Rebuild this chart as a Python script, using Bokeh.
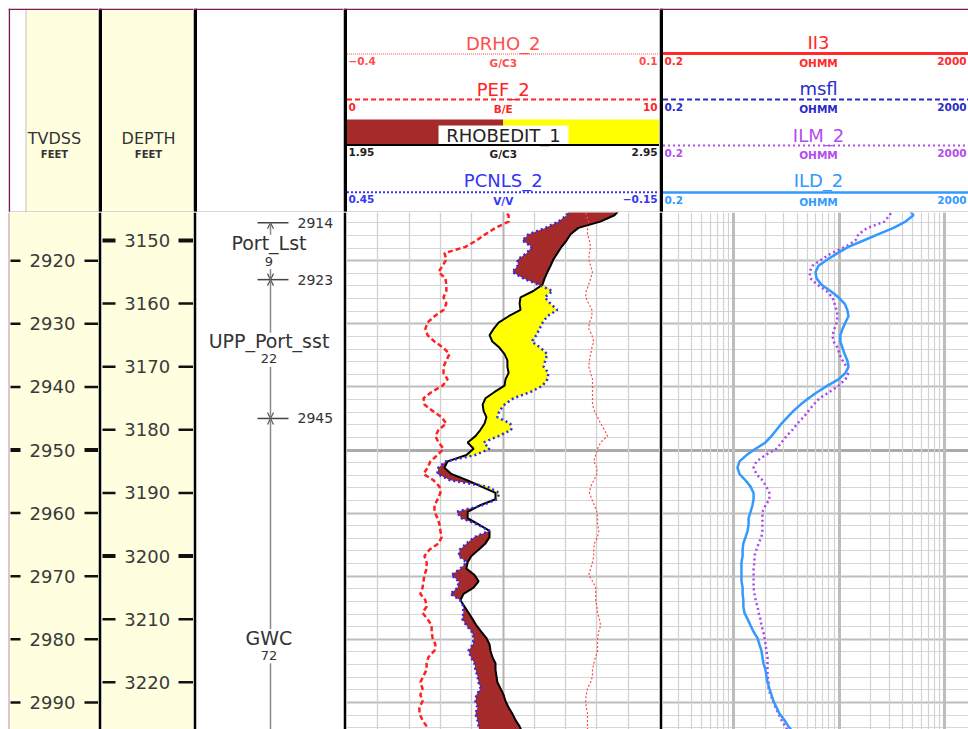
import numpy as np
from bokeh.plotting import figure
from bokeh.layouts import row, column
from bokeh.models import Range1d, Grid, FixedTicker, Arrow, OpenHead, ColumnDataSource, Spacer
from bokeh.core.properties import value
from bokeh.embed import file_html
from bokeh.resources import INLINE

# ---------------- data ----------------
MD = list(range(3145, 3229))  # measured depth, feet

RHOB = [2.825, 2.806, 2.761, 2.691, 2.666, 2.653, 2.637, 2.624, 2.611, 2.602,
        2.592, 2.583, 2.576, 2.547, 2.506, 2.503, 2.506, 2.468, 2.436, 2.420,
        2.407, 2.416, 2.439, 2.455, 2.464, 2.464, 2.468, 2.458, 2.455, 2.423,
        2.394, 2.385, 2.388, 2.397, 2.391, 2.378, 2.362, 2.337, 2.356, 2.333,
        2.273, 2.263, 2.285, 2.337, 2.381, 2.426, 2.426, 2.375, 2.337, 2.337,
        2.372, 2.407, 2.407, 2.394, 2.372, 2.349, 2.337, 2.333, 2.359, 2.372,
        2.356, 2.324, 2.314, 2.327, 2.340, 2.353, 2.365, 2.381, 2.397, 2.407,
        2.410, 2.416, 2.426, 2.426, 2.429, 2.432, 2.442, 2.452, 2.458, 2.468,
        2.480, 2.490, 2.503, 2.512]

PCNLS = [0.021, 0.028, 0.044, 0.069, 0.101, 0.113, 0.095, 0.105, 0.122, 0.122,
         0.132, 0.111, 0.082, 0.055, 0.070, 0.059, 0.046, 0.065, 0.074, 0.080,
         0.086, 0.095, 0.078, 0.065, 0.069, 0.072, 0.063, 0.065, 0.074, 0.097,
         0.130, 0.147, 0.157, 0.161, 0.136, 0.134, 0.159, 0.187, 0.176, 0.203,
         0.260, 0.274, 0.276, 0.251, 0.180, 0.157, 0.161, 0.191, 0.239, 0.230,
         0.199, 0.176, 0.205, 0.220, 0.233, 0.235, 0.220, 0.232, 0.249, 0.235,
         0.237, 0.251, 0.232, 0.226, 0.226, 0.228, 0.220, 0.210, 0.206, 0.208,
         0.216, 0.212, 0.205, 0.203, 0.199, 0.197, 0.193, 0.201, 0.203, 0.199,
         0.203, 0.199, 0.197, 0.195]

PEF = [4.92, 5.18, 5.18, 4.76, 4.44, 4.15, 3.80, 3.13, 3.19, 3.07,
       2.94, 3.16, 3.19, 3.19, 3.10, 3.19, 3.10, 2.81, 2.59, 2.52,
       2.59, 2.81, 3.10, 3.29, 3.19, 3.10, 3.10, 3.23, 3.07, 2.72,
       2.46, 2.49, 2.75, 3.04, 3.19, 2.94, 2.84, 2.94, 3.10, 2.91,
       2.68, 2.59, 2.46, 2.78, 2.97, 3.00, 2.91, 2.81, 2.81, 2.91,
       2.97, 3.00, 3.04, 2.94, 2.65, 2.49, 2.56, 2.56, 2.49, 2.46,
       2.43, 2.36, 2.52, 2.56, 2.43, 2.59, 2.72, 2.72, 2.75, 2.84,
       2.81, 2.62, 2.56, 2.56, 2.46, 2.36, 2.43, 2.36, 2.43, 2.33,
       2.33, 2.43, 2.56, 2.65]

DRHO = [-0.018, -0.017, -0.013, -0.015, -0.015, -0.012, -0.010, -0.012, -0.013, -0.010,
        -0.007, -0.010, -0.013, -0.017, -0.018, -0.013, -0.008, -0.008, -0.012, -0.013,
        -0.008, -0.005, -0.008, -0.010, -0.012, -0.013, -0.010, -0.007, -0.007, -0.007,
        -0.007, -0.007, -0.004, 0.001, 0.006, 0.012, 0.017, 0.006, 0.001, -0.002,
        -0.005, 0.000, 0.000, -0.005, -0.010, -0.012, -0.008, -0.004, 0.000, 0.001,
        0.001, 0.003, 0.001, -0.004, -0.005, -0.005, -0.007, -0.010, -0.013, -0.007,
        -0.002, -0.002, -0.002, 0.000, 0.001, 0.004, 0.006, 0.003, 0.001, 0.001,
        0.001, -0.002, -0.005, -0.007, -0.007, -0.010, -0.015, -0.017, -0.018, -0.017,
        -0.015, -0.015, -0.015, -0.015]

ILD = [45.6, 50.8, 42.7, 32.9, 23.7, 17.1, 12.3, 9.68, 7.78, 6.39,
       5.99, 6.12, 6.83, 8.30, 9.89, 11.3, 12.0, 12.3, 11.5, 10.8,
       10.3, 10.3, 10.8, 11.3, 12.0, 12.3, 11.5, 9.89, 7.78, 6.25,
       5.14, 4.32, 3.70, 3.25, 2.85, 2.56, 2.29, 2.01, 1.62, 1.33,
       1.14, 1.09, 1.14, 1.30, 1.45, 1.55, 1.55, 1.51, 1.45, 1.39,
       1.39, 1.36, 1.30, 1.24, 1.22, 1.22, 1.19, 1.19, 1.19, 1.19,
       1.22, 1.22, 1.24, 1.24, 1.27, 1.36, 1.45, 1.55, 1.69, 1.76,
       1.84, 1.88, 1.92, 2.01, 2.05, 2.10, 2.19, 2.29, 2.39, 2.56,
       2.73, 3.04, 3.32, 3.70]

ILM = [32.9, 30.1, 27.0, 18.6, 15.3, 14.3, 11.5, 8.49, 6.83, 5.61,
       5.25, 5.37, 6.25, 7.61, 8.67, 9.06, 9.47, 9.68, 9.47, 9.06,
       8.67, 8.87, 9.68, 10.1, 10.8, 11.8, 12.3, 11.5, 9.89, 8.13,
       6.53, 5.73, 5.14, 4.61, 4.04, 3.62, 3.18, 2.85, 2.56, 2.01,
       1.65, 1.55, 1.65, 1.88, 2.05, 2.19, 2.19, 2.01, 1.88, 1.88,
       1.88, 1.88, 1.84, 1.73, 1.65, 1.58, 1.58, 1.55, 1.55, 1.55,
       1.55, 1.58, 1.62, 1.69, 1.73, 1.80, 1.84, 1.92, 1.97, 2.01,
       2.05, 2.10, 2.10, 2.10, 2.10, 2.15, 2.15, 2.24, 2.39, 2.50,
       2.67, 2.85, 3.11, 3.32]

TVD_OFFSET = 233.2                     # MD - TVDSS
MD_TICKS = list(range(3150, 3230, 10))
TVD_TICKS = list(range(2920, 3000, 10))

ZONE_NAMES = ["Port_Lst", "UPP_Port_sst", "GWC"]
ZONE_TOPS = [2914, 2923, 2945]        # TVDSS
ZONE_BASES = [2923, 2945, 3017]

DENS_NAMES = ["DRHO_2", "PEF_2", "RHOBEDIT_1", "PCNLS_2"]
DENS_UNITS = ["G/C3", "B/E", "G/C3", "V/V"]
DENS_LEFT = [-0.4, 0, 1.95, 0.45]
DENS_RIGHT = [0.1, 10, 2.95, -0.15]
DENS_COLORS = ["#ff4d4d", "#ff2424", "#000000", "#3535f5"]

RES_NAMES = ["II3", "msfl", "ILM_2", "ILD_2"]
RES_UNIT = "OHMM"
RES_LEFT = 0.2
RES_RIGHT = 2000
RES_COLORS = ["#ff2a2a", "#2b2bc8", "#b24cf0", "#3399ff"]

# ---------------- layout / style ----------------
FONT = value("DejaVu Sans")
PURPLE = "#7d1a5c"
CREAM = "#ffffe0"
HEAD_H = 204
DATA_H = 517
MD_TOP, MD_BOT = 3145.56, 3227.49
W = [90, 95, 150, 316, 309]


def fmt(v):
    return f"{v:g}".replace("-", "\u2212")


def base_fig(w, h, xr, yr, border_left=0, border_color="white", bg="white", **kw):
    p = figure(width=w, height=h, x_range=xr, y_range=yr, output_backend="svg",
               toolbar_location=None, x_axis_location=None, y_axis_location=None,
               min_border_left=border_left, min_border_right=0,
               min_border_top=0, min_border_bottom=0, **kw)
    for g in p.grid:
        g.visible = False
    p.outline_line_color = None
    p.border_fill_color = border_color
    p.background_fill_color = bg
    return p


def txt(p, x, y, s, color="#333333", size="18px", align="center", baseline="middle", style="normal"):
    p.text(x=[x], y=[y], text=[s], text_color=color, text_font=FONT, text_font_size=size,
           text_align=align, text_baseline=baseline, text_font_style=style)


def header(w):
    return base_fig(w, HEAD_H, Range1d(0, w), Range1d(HEAD_H, 0))


def frame_decor(p, w, left_black=True):
    if left_black:
        p.quad(left=[0], right=[3.5], top=[0], bottom=[HEAD_H], fill_color="black", line_color=None)
    p.quad(left=[0], right=[w], top=[0], bottom=[1.6], fill_color=PURPLE, line_color=None)
    p.line(x=[0, w], y=[203.5, 203.5], line_color="#b0b0b0", line_width=1)


def add_grid(p, dim, ticks, color, width):
    p.add_layout(Grid(dimension=dim, ticker=FixedTicker(ticks=ticks),
                      grid_line_color=color, grid_line_width=width))


# ---------------- headers ----------------
h1 = header(W[0])
h1.quad(left=[18], right=[W[0]], top=[0], bottom=[HEAD_H], fill_color=CREAM, line_color=None)
h1.line(x=[17.5, 17.5], y=[0, HEAD_H], line_color="#c0c0c0", line_width=1)
h1.quad(left=[0], right=[1.6], top=[0], bottom=[HEAD_H], fill_color=PURPLE, line_color=None)
frame_decor(h1, W[0], left_black=False)
txt(h1, 46, 130, "TVDSS", size="16px")
txt(h1, 46, 146, "FEET", size="10px", style="bold")

h2 = header(W[1])
h2.quad(left=[3], right=[W[1]], top=[0], bottom=[HEAD_H], fill_color=CREAM, line_color=None)
frame_decor(h2, W[1])
txt(h2, 50, 130, "DEPTH", size="16px")
txt(h2, 50, 146, "FEET", size="10px", style="bold")

h3 = header(W[2])
frame_decor(h3, W[2])

LINE_Y = [45.5, 91, 136.5, 183.7]
NAME_Y = [34.7, 80.7, 126.5, 172]
DENS_DASH = ["1 1", "5 3", None, "2 2"]
DENS_LW = [1, 2, 2, 2]
SMALL = "10.5px"
h4 = header(W[3])
x0, x1 = 3.5, W[3]
xc = (x0 + x1) / 2
for i, name in enumerate(DENS_NAMES):
    ly = LINE_Y[i]
    col = DENS_COLORS[i]
    if name == "RHOBEDIT_1":
        h4.quad(left=[x0], right=[xc], top=[111], bottom=[136], fill_color="#a52a2a", line_color=None)
        h4.quad(left=[xc], right=[x1], top=[111], bottom=[136], fill_color="#ffff00", line_color=None)
        h4.quad(left=[95], right=[225], top=[117], bottom=[136], fill_color="white", line_color=None)
        txt(h4, 160, NAME_Y[i], name, color="#222222")
        h4.line(x=[x0, x1], y=[ly, ly], line_color="black", line_width=2)
        lab_col = "#222222"
    else:
        txt(h4, xc, NAME_Y[i], name, color=col)
        kw = dict(line_dash=DENS_DASH[i]) if DENS_DASH[i] else {}
        h4.line(x=[x0, x1], y=[ly, ly], line_color=col, line_width=DENS_LW[i], **kw)
        lab_col = col
    txt(h4, x0 + 1.5, ly + 3, fmt(DENS_LEFT[i]), color=lab_col, size=SMALL, align="left", baseline="top", style="bold")
    txt(h4, xc, ly + 3, DENS_UNITS[i], color=lab_col, size=SMALL, baseline="top", style="bold")
    txt(h4, x1 - 2, ly + 3, fmt(DENS_RIGHT[i]), color=lab_col, size=SMALL, align="right", baseline="top", style="bold")
frame_decor(h4, W[3])

RES_DASH = [None, "5 3", "2 3", None]
RES_LW = [3, 2, 2, 2.5]
RES_LINE_Y = [45, 91, 137, 184]
RES_NAME_Y = [33.7, 80.3, 127, 172]
h5 = header(W[4])
r0, rc, r1 = 3.5, 159, W[4] - 2
for i, name in enumerate(RES_NAMES):
    ly = RES_LINE_Y[i]
    col = RES_COLORS[i]
    txt(h5, rc, RES_NAME_Y[i], name, color=col)
    kw = dict(line_dash=RES_DASH[i]) if RES_DASH[i] else {}
    h5.line(x=[r0, W[4]], y=[ly, ly], line_color=col, line_width=RES_LW[i], **kw)
    txt(h5, r0 + 1.5, ly + 3, fmt(RES_LEFT), color=col, size=SMALL, align="left", baseline="top", style="bold")
    txt(h5, rc, ly + 3, RES_UNIT, color=col, size=SMALL, baseline="top", style="bold")
    txt(h5, r1, ly + 3, fmt(RES_RIGHT), color=col, size=SMALL, align="right", baseline="top", style="bold")
frame_decor(h5, W[4])

# ---------------- data tracks ----------------
tvd_range = Range1d(MD_BOT - TVD_OFFSET, MD_TOP - TVD_OFFSET)
md_range = Range1d(MD_BOT, MD_TOP)
LABEL_COL = "#3a3a3a"

# TVDSS track
d1 = base_fig(W[0], DATA_H, Range1d(0, 89), tvd_range, border_left=1, border_color=PURPLE, bg=CREAM)
n = len(TVD_TICKS)
tw = [4 if t % 50 == 0 else 2.5 for t in TVD_TICKS]
d1.segment(x0=[1] * n, x1=[11] * n, y0=TVD_TICKS, y1=TVD_TICKS, line_width=tw, line_color="#111111")
d1.segment(x0=[75] * n, x1=[89] * n, y0=TVD_TICKS, y1=TVD_TICKS, line_width=tw, line_color="#111111")
d1.text(x=[43] * n, y=TVD_TICKS, text=[str(t) for t in TVD_TICKS], text_font=FONT,
        text_font_size="18px", text_color=LABEL_COL, text_align="center", text_baseline="middle")

# DEPTH track
d2 = base_fig(W[1], DATA_H, Range1d(0, 92), md_range, border_left=3, border_color="black", bg=CREAM)
n = len(MD_TICKS)
mw = [4 if t % 50 == 0 else 2.5 for t in MD_TICKS]
d2.segment(x0=[1] * n, x1=[14] * n, y0=MD_TICKS, y1=MD_TICKS, line_width=mw, line_color="#111111")
d2.segment(x0=[77] * n, x1=[92] * n, y0=MD_TICKS, y1=MD_TICKS, line_width=mw, line_color="#111111")
d2.text(x=[45.7] * n, y=MD_TICKS, text=[str(t) for t in MD_TICKS], text_font=FONT,
        text_font_size="18px", text_color=LABEL_COL, text_align="center", text_baseline="middle")

# Zone track
d3 = base_fig(W[2], DATA_H, Range1d(0, 147), tvd_range, border_left=3, border_color="black")
tops = np.array(ZONE_TOPS, float)
bases = np.array(ZONE_BASES, float)
mids = (tops + bases) / 2
thick = bases - tops
nz = len(ZONE_NAMES)
d3.segment(x0=[61] * nz, x1=[92] * nz, y0=tops, y1=tops, line_color="#444444", line_width=1.5)
d3.text(x=[101] * nz, y=tops, text=[str(t) for t in ZONE_TOPS], text_font=FONT, text_font_size="14px",
        text_color="#333333", text_align="left", text_baseline="middle")
d3.text(x=[72.5] * nz, y=mids - 1.25, text=ZONE_NAMES, text_font=FONT, text_font_size="19px",
        text_color="#333333", text_align="center", text_baseline="middle")
d3.text(x=[72.5] * nz, y=mids + 1.55, text=[f"{t:g}" for t in thick], text_font=FONT, text_font_size="13px",
        text_color="#333333", text_align="center", text_baseline="middle")
asrc = ColumnDataSource(dict(
    xs=[74] * (2 * nz), xe=[74] * (2 * nz),
    ys=list(mids - 2.6) + list(mids + 2.8),
    ye=list(tops) + list(bases)))
d3.add_layout(Arrow(x_start="xs", y_start="ys", x_end="xe", y_end="ye", source=asrc,
                    line_color="#8a8a8a", line_width=1.5,
                    end=OpenHead(size=6, line_color="#555555", line_width=1.2)))

# horizontal grid (TVDSS every 2 ft) converted to MD
tvd_grid = list(range(2912, 2996, 2))
g_minor = [t + TVD_OFFSET for t in tvd_grid if t % 10 != 0]
g_major = [t + TVD_OFFSET for t in tvd_grid if t % 10 == 0 and t % 50 != 0]
g_fifty = [t + TVD_OFFSET for t in tvd_grid if t % 50 == 0]

# Density / neutron track
d4 = base_fig(W[3], DATA_H, Range1d(DENS_LEFT[2], DENS_RIGHT[2]), md_range,
              border_left=3, border_color="black")
d4.extra_x_ranges = {"drho": Range1d(DENS_LEFT[0], DENS_RIGHT[0]),
                     "pef": Range1d(DENS_LEFT[1], DENS_RIGHT[1]),
                     "nphi": Range1d(DENS_LEFT[3], DENS_RIGHT[3])}
vt = [round(DENS_LEFT[2] + 0.1 * k, 2) for k in range(1, 10)]
add_grid(d4, 1, g_minor, "#d6d6d6", 1)
add_grid(d4, 1, g_major, "#bdbdbd", 2)
add_grid(d4, 1, g_fifty, "#ababab", 3)
add_grid(d4, 0, [v for v in vt if abs(v - 2.45) > 1e-6], "#d0d0d0", 1.3)
add_grid(d4, 0, [2.45], "#b4b4b4", 2)

rhob = np.array(RHOB)
nphi_on_rhob = DENS_LEFT[2] + (DENS_LEFT[3] - np.array(PCNLS)) / (DENS_LEFT[3] - DENS_RIGHT[3]) * (DENS_RIGHT[2] - DENS_LEFT[2])
upper = np.maximum(rhob, nphi_on_rhob)
d4.harea(x1=nphi_on_rhob, x2=upper, y=MD, fill_color="#a52a2a")
d4.harea(x1=rhob, x2=upper, y=MD, fill_color="#ffff00")
d4.line(DRHO, MD, x_range_name="drho", line_color="#ff4a4a", line_width=1.2, line_dash="2 2")
d4.line(PEF, MD, x_range_name="pef", line_color="#ff2020", line_width=2.5, line_dash="5 3")
d4.line(RHOB, MD, line_color="black", line_width=2)
d4.line(PCNLS, MD, x_range_name="nphi", line_color="#2a2af0", line_width=2.5, line_dash="2 3")

# Resistivity track (log)
res_lo = 10 ** ((662 - 733) / 105.5)
res_hi = 10 ** ((968 - 733) / 105.5)
d5 = base_fig(W[4], DATA_H, Range1d(res_lo, res_hi), md_range, border_left=3, border_color="black",
              x_axis_type="log")
minor = [m * 10.0 ** e for e in (-1, 0, 1, 2) for m in range(2, 10) if res_lo < m * 10.0 ** e < res_hi]
add_grid(d5, 1, g_minor, "#d6d6d6", 1)
add_grid(d5, 1, g_major, "#bdbdbd", 2)
add_grid(d5, 1, g_fifty, "#ababab", 3)
add_grid(d5, 0, minor, "#d2d2d2", 1.2)
add_grid(d5, 0, [1, 10, 100], "#bdbdbd", 3)
d5.line(ILM, MD, line_color="#a845ee", line_width=2.5, line_dash="2 3")
d5.line(ILD, MD, line_color="#3399ff", line_width=2.5)

layout = column(Spacer(height=8),
                row(Spacer(width=8), h1, h2, h3, h4, h5, spacing=0),
                row(Spacer(width=8), d1, d2, d3, d4, d5, spacing=0), spacing=0)
open("out.html", "w").write(file_html(layout, INLINE))
